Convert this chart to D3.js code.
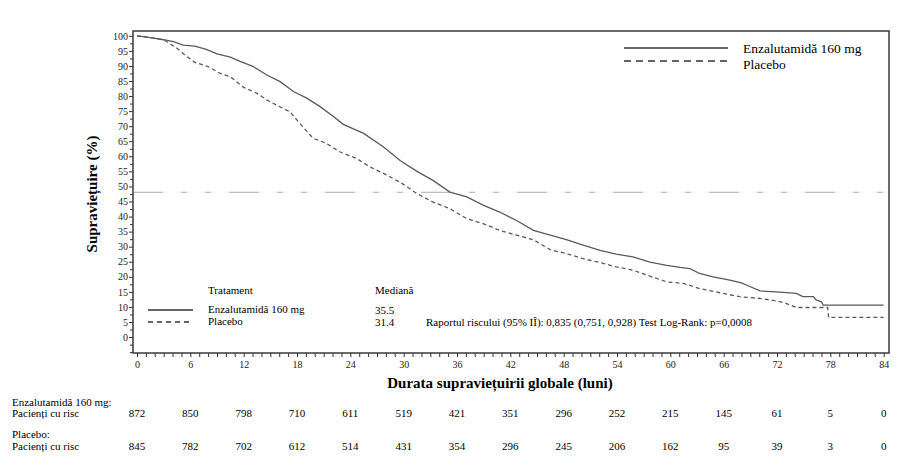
<!DOCTYPE html>
<html>
<head>
<meta charset="utf-8">
<script src="https://cdn.jsdelivr.net/npm/d3@7"></script>
<style>
  body { margin: 0; background: #fff; }
  svg, svg text { font-family: "Liberation Serif", "Times New Roman", "DejaVu Serif", serif; }
  .tick text { font-size: 10px; fill: #222; }
  .tick line { stroke: #333; }
</style>
</head>
<body>
<svg id="chart" width="918" height="473"></svg>
<script>
// Kaplan-Meier curves: [month, survival %]
const ENZA = [
  [0, 100], [1.5, 99.4], [3, 98.7], [4.1, 98.1], [5.2, 96.9], [6.5, 96.6], [7.8, 95.5],
  [9.0, 94.0], [10.5, 92.9], [11.6, 91.5], [13.1, 89.8], [14.6, 87.0], [16.1, 84.8],
  [17.6, 81.5], [19.1, 79.3], [20.6, 76.5], [22.1, 73.2], [23.2, 70.6], [25.5, 67.6],
  [27.7, 63.2], [29.6, 58.6], [31.5, 55.0], [33.3, 52.0], [35.2, 48.1], [37.1, 46.5],
  [39.0, 43.7], [40.8, 41.5], [42.7, 38.7], [44.6, 35.4], [46.5, 33.8], [48.3, 32.3],
  [50.2, 30.5], [52.1, 28.8], [53.9, 27.5], [55.8, 26.6], [57.7, 24.9], [59.6, 23.8],
  [61.1, 23.1], [62.2, 22.7], [63.3, 21.1], [64.8, 20.0], [66.7, 18.9], [68.0, 18.0],
  [69.0, 16.7], [70.1, 15.3], [71.9, 15.0], [74.2, 14.5], [74.9, 13.4], [76.1, 13.4],
  [76.4, 12.3], [77.0, 11.7], [77.2, 10.6], [84, 10.6]
]

const PLACEBO = [
  [0, 100], [1.5, 99.4], [3, 98.7], [3.3, 98.1], [4.5, 95.9], [5.4, 93.6], [6.5, 91.2],
  [8.0, 89.8], [9.3, 87.6], [10.5, 86.4], [12.0, 82.9], [13.5, 80.9], [14.6, 78.7],
  [15.7, 77.0], [17.2, 74.8], [18.3, 71.0], [19.8, 66.0], [21.3, 64.3], [22.8, 61.5],
  [24.7, 59.3], [26.2, 56.5], [28.1, 53.8], [29.8, 51.0], [31.5, 47.6], [33.3, 44.8],
  [35.2, 42.6], [37.1, 39.3], [39.0, 37.6], [40.8, 35.4], [42.7, 33.8], [44.6, 32.3],
  [46.5, 29.0], [48.3, 27.7], [50.2, 26.0], [52.1, 24.7], [53.9, 23.3], [55.8, 22.2],
  [57.7, 20.2], [59.6, 18.3], [61.5, 17.8], [63.3, 16.1], [65.6, 14.7], [67.8, 13.4],
  [70.1, 12.8], [71.9, 12.0], [73.0, 11.2], [74.2, 9.8], [77.7, 9.8], [77.8, 6.5], [84, 6.5]
]

const MEDIAN_LEVEL = 48

const X_TICKS = [0, 6, 12, 18, 24, 30, 36, 42, 48, 54, 60, 66, 72, 78, 84]
const Y_TICKS = [0, 5, 10, 15, 20, 25, 30, 35, 40, 45, 50, 55, 60, 65, 70, 75, 80, 85, 90, 95, 100]

const RISK_ENZA = [872, 850, 798, 710, 611, 519, 421, 351, 296, 252, 215, 145, 61, 5, 0]
const RISK_PLACEBO = [845, 782, 702, 612, 514, 431, 354, 296, 245, 206, 162, 95, 39, 3, 0]

const FONT = '"Liberation Serif", "Times New Roman", "DejaVu Serif", serif'

const svg = d3.select('#chart').attr('font-family', FONT)
const margin = {top: 31, left: 133, right: 29, bottom: 120}
const W = 918 - margin.left - margin.right
const H = 473 - margin.top - margin.bottom

const x = d3.scaleLinear().domain([-0.45, 84.6]).range([0, W])
const y = d3.scaleLinear().domain([-5.3, 101.6]).range([H, 0])

const g = svg.append('g').attr('transform', `translate(${margin.left},${margin.top})`)

// minor ticks
const minorX = d3.range(0, 85, 1).filter(d => d % 6 !== 0)
g.append('g')
  .attr('transform', `translate(0,${H})`)
  .call(d3.axisBottom(x).tickValues(minorX).tickSize(4).tickFormat(''))
  .call(a => a.select('.domain').remove())

const minorY = d3.range(-5, 100, 2.5).filter(d => d % 5 !== 0 || d < 0)
g.append('g')
  .call(d3.axisLeft(y).tickValues(minorY).tickSize(3).tickFormat(''))
  .call(a => a.select('.domain').remove())

// major ticks
g.append('g')
  .attr('transform', `translate(0,${H})`)
  .call(d3.axisBottom(x).tickValues(X_TICKS).tickSize(4).tickPadding(4))
  .call(a => a.select('.domain').remove())
  .call(a => a.attr('font-family', FONT))

g.append('g')
  .call(d3.axisLeft(y).tickValues(Y_TICKS).tickSize(4).tickPadding(1))
  .call(a => a.select('.domain').remove())
  .call(a => a.attr('font-family', FONT))

// median reference line
g.append('line')
  .attr('x1', 0).attr('x2', W)
  .attr('y1', y(MEDIAN_LEVEL)).attr('y2', y(MEDIAN_LEVEL))
  .attr('stroke', '#bdbdbd')
  .attr('stroke-width', 1.3)
  .attr('stroke-dasharray', '30,18,6,18,6,18')

const line = d3.line().x(d => x(d[0])).y(d => y(d[1]))

g.append('path')
  .datum(ENZA)
  .attr('d', line)
  .attr('fill', 'none')
  .attr('stroke', '#5a5a5a')
  .attr('stroke-width', 1.3)

g.append('path')
  .datum(PLACEBO)
  .attr('d', line)
  .attr('fill', 'none')
  .attr('stroke', '#5a5a5a')
  .attr('stroke-width', 1.3)
  .attr('stroke-dasharray', '4,3')

// frame
g.append('rect')
  .attr('width', W).attr('height', H)
  .attr('fill', 'none')
  .attr('stroke', '#3a3a3a')
  .attr('stroke-width', 1.5)

// top-right legend
const leg = svg.append('g').attr('font-size', 13.5)
leg.append('line').attr('x1', 624).attr('x2', 728).attr('y1', 48).attr('y2', 48)
  .attr('stroke', '#333').attr('stroke-width', 1.4)
leg.append('line').attr('x1', 624).attr('x2', 728).attr('y1', 61).attr('y2', 61)
  .attr('stroke', '#333').attr('stroke-width', 1.4).attr('stroke-dasharray', '7,5')
leg.append('text').attr('x', 743).attr('y', 53).text('Enzalutamidă 160 mg')
leg.append('text').attr('x', 743).attr('y', 69).text('Placebo')

// inner legend with medians
const inner = svg.append('g').attr('font-size', 11)
inner.append('text').attr('x', 208).attr('y', 294).text('Tratament')
inner.append('text').attr('x', 375).attr('y', 294).text('Mediană')
inner.append('line').attr('x1', 148).attr('x2', 193).attr('y1', 310).attr('y2', 310)
  .attr('stroke', '#333').attr('stroke-width', 1.3)
inner.append('line').attr('x1', 148).attr('x2', 193).attr('y1', 322).attr('y2', 322)
  .attr('stroke', '#333').attr('stroke-width', 1.3).attr('stroke-dasharray', '5,4')
inner.append('text').attr('x', 208).attr('y', 313).text('Enzalutamidă 160 mg')
inner.append('text').attr('x', 375).attr('y', 314).text('35.5')
inner.append('text').attr('x', 208).attr('y', 325).text('Placebo')
inner.append('text').attr('x', 375).attr('y', 326).text('31.4')
inner.append('text').attr('x', 426).attr('y', 326)
  .text('Raportul riscului (95% IÎ): 0,835 (0,751, 0,928) Test Log-Rank: p=0,0008')

// axis titles
svg.append('text')
  .attr('x', 500).attr('y', 388)
  .attr('text-anchor', 'middle')
  .attr('font-size', 15).attr('font-weight', 'bold')
  .text('Durata supraviețuirii globale (luni)')

svg.append('text')
  .attr('transform', `translate(97,${margin.top + H / 2 + 2}) rotate(-90)`)
  .attr('text-anchor', 'middle')
  .attr('font-size', 15).attr('font-weight', 'bold')
  .text('Supraviețuire (%)')

// numbers at risk
const risk = svg.append('g').attr('font-size', 11)
risk.append('text').attr('x', 12).attr('y', 406).text('Enzalutamidă 160 mg:')
risk.append('text').attr('x', 12).attr('y', 417).text('Pacienți cu risc')
risk.append('text').attr('x', 12).attr('y', 438).text('Placebo:')
risk.append('text').attr('x', 12).attr('y', 450).text('Pacienți cu risc')

risk.selectAll('.r1').data(RISK_ENZA).join('text')
  .attr('x', (d, i) => margin.left + x(X_TICKS[i]))
  .attr('y', 417)
  .attr('text-anchor', 'middle')
  .text(d => d)

risk.selectAll('.r2').data(RISK_PLACEBO).join('text')
  .attr('x', (d, i) => margin.left + x(X_TICKS[i]))
  .attr('y', 450)
  .attr('text-anchor', 'middle')
  .text(d => d)
</script>
</body>
</html>
